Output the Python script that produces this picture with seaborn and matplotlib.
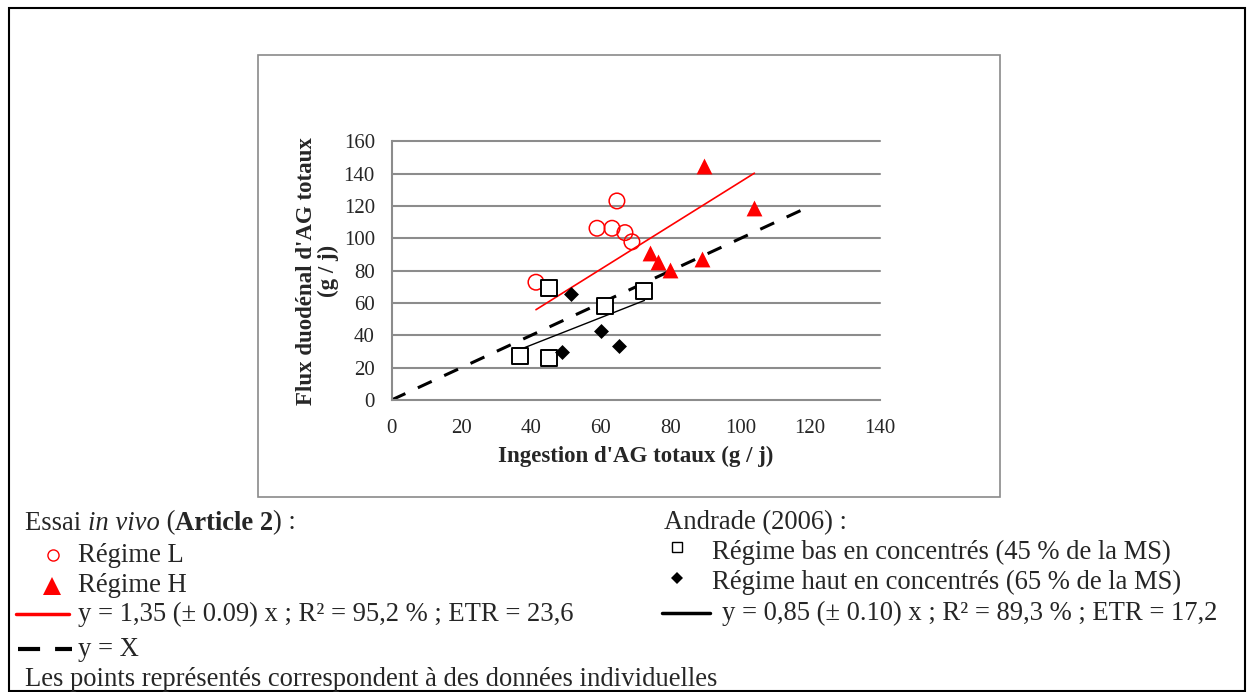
import matplotlib.pyplot as plt
import matplotlib.patches as mpatches
import matplotlib.lines as mlines
import numpy as np
import seaborn as sns

# Essai in vivo (Article 2)
regime_l_x = [41.4, 58.9, 63.2, 64.6, 66.9, 68.9]
regime_l_y = [72.9, 106.3, 106.3, 123.2, 103.6, 97.9]
regime_h_x = [89.7, 104.0, 74.2, 76.4, 79.7, 88.9]
regime_h_y = [144.9, 118.7, 90.8, 85.7, 80.5, 87.3]

# Andrade (2006)
bas_x = [45.0, 36.9, 45.0, 61.3, 72.5]
bas_y = [69.2, 27.3, 25.8, 58.2, 67.7]
haut_x = [51.3, 49.0, 60.1, 65.1]
haut_y = [65.6, 29.5, 42.9, 33.4]

# regression slopes
slope_essai = 1.35
slope_andrade = 0.85
identity_range = [0, 120]

x_ticks = list(range(0, 141, 20))
y_ticks = list(range(0, 161, 20))

sns.set_style("white")
plt.rcParams['font.family'] = ['Liberation Serif', 'DejaVu Serif']

W, H = 1247, 692
fig = plt.figure(figsize=(W / 100, H / 100), dpi=100)


def fx(px):
    return px / W


def fy(py):
    return 1 - py / H


# outer black frame and gray chart frame
fig.add_artist(mpatches.Rectangle((fx(9), fy(691)), fx(1245) - fx(9), fy(8) - fy(691),
                                  transform=fig.transFigure, fill=False, edgecolor='black', lw=1.5))
fig.add_artist(mpatches.Rectangle((fx(258), fy(497)), fx(1000) - fx(258), fy(55) - fy(497),
                                  transform=fig.transFigure, fill=False, edgecolor='#8a8a8a', lw=1.2))

ax = fig.add_axes([fx(391.5), fy(400), fx(880) - fx(391.5), fy(141.5) - fy(400)])

gray = '#8c8c8c'
for yv in y_ticks[1:]:
    ax.axhline(yv, color=gray, lw=1.5, zorder=0, clip_on=False)

# lines
ax.plot(identity_range, identity_range, color='black', lw=2.2, ls=(0, (5, 4.5)), zorder=1)
essai_x = np.array([min(regime_l_x + regime_h_x), max(regime_l_x + regime_h_x)])
ax.plot(essai_x, slope_essai * essai_x, color='red', lw=1.2, zorder=1)
andr_x = np.array([min(bas_x), max(bas_x)])
ax.plot(andr_x, slope_andrade * andr_x, color='black', lw=1.0, zorder=1)

# points
sns.scatterplot(x=regime_l_x, y=regime_l_y, ax=ax, marker='o', s=125,
                facecolor='none', edgecolor='red', linewidth=1.1, zorder=3)
sns.scatterplot(x=regime_h_x, y=regime_h_y, ax=ax, marker='^', s=130,
                color='red', edgecolor='red', linewidth=0, zorder=3)
sns.scatterplot(x=bas_x, y=bas_y, ax=ax, marker='s', s=120,
                facecolor='white', edgecolor='black', linewidth=1.4, zorder=3)
sns.scatterplot(x=haut_x, y=haut_y, ax=ax, marker='D', s=58,
                color='black', edgecolor='black', linewidth=0, zorder=3)

ax.set_xlim(0, 140)
ax.set_ylim(0, 160)
ax.set_xticks(x_ticks)
ax.set_yticks(y_ticks)
for side in ['top', 'right']:
    ax.spines[side].set_visible(False)
for side in ['left', 'bottom']:
    ax.spines[side].set_color(gray)
    ax.spines[side].set_linewidth(1.5)
ax.tick_params(axis='both', direction='out', length=5, width=1.5, color=gray,
               labelsize=15, pad=7)
ax.tick_params(axis='x', pad=9)
ax.set_xlabel("Ingestion d'AG totaux (g / j)", fontsize=16.5, fontweight='bold', labelpad=5.5)
ax.set_ylabel("Flux duodénal d'AG totaux\n(g / j)", fontsize=16.5, fontweight='bold',
              labelpad=3, linespacing=1.05)

# legend block below the chart
fs = 19.2


def chain(prev, text, **kw):
    return ax.annotate(text, xy=(1, 0), xycoords=prev, va='bottom', ha='left',
                       fontsize=fs, **kw)


t = fig.text(fx(25), fy(523), "Essai ", fontsize=fs, va='center')
t = chain(t, "in vivo", style='italic')
t = chain(t, " (")
t = chain(t, "Article 2", fontweight='bold')
t = chain(t, ") :")

fig.text(fx(78), fy(555), "Régime L", fontsize=fs, va='center')
fig.text(fx(78), fy(585), "Régime H", fontsize=fs, va='center')
fig.text(fx(78), fy(614), "y = 1,35 (± 0.09) x ; R² = 95,2 % ; ETR = 23,6", fontsize=fs, va='center')
fig.text(fx(78), fy(649), "y = X", fontsize=fs, va='center')
fig.text(fx(25), fy(680), "Les points représentés correspondent à des données individuelles",
         fontsize=fs, va='center')

fig.text(fx(664), fy(523), "Andrade (2006) :", fontsize=fs, va='center')
fig.text(fx(712), fy(552), "Régime bas en concentrés (45 % de la MS)", fontsize=fs, va='center')
fig.text(fx(712), fy(582), "Régime haut en concentrés (65 % de la MS)", fontsize=fs, va='center')
fig.text(fx(722), fy(613), "y = 0,85 (± 0.10) x ; R² = 89,3 % ; ETR = 17,2", fontsize=fs, va='center')

# legend symbols
fig.add_artist(mlines.Line2D([fx(53)], [fy(555)], marker='o', ms=8, mfc='none', mec='red',
                             mew=1, transform=fig.transFigure))
fig.add_artist(mlines.Line2D([fx(52)], [fy(586)], marker='^', ms=13, mfc='red', mec='red',
                             mew=0, transform=fig.transFigure))
fig.add_artist(mlines.Line2D([fx(16), fx(69)], [fy(614), fy(614)], color='red', lw=2.5,
                             transform=fig.transFigure))
fig.add_artist(mlines.Line2D([fx(18), fx(72)], [fy(649), fy(649)], color='black', lw=3,
                             ls=(0, (5.3, 3.6)), transform=fig.transFigure))
fig.add_artist(mlines.Line2D([fx(677)], [fy(547)], marker='s', ms=7.5, mfc='white', mec='black',
                             mew=1, transform=fig.transFigure))
fig.add_artist(mlines.Line2D([fx(677)], [fy(578)], marker='D', ms=6, mfc='black', mec='black',
                             mew=0, transform=fig.transFigure))
fig.add_artist(mlines.Line2D([fx(662), fx(710)], [fy(613), fy(613)], color='black', lw=2.5,
                             transform=fig.transFigure))

fig.savefig('out.png', dpi=100)
